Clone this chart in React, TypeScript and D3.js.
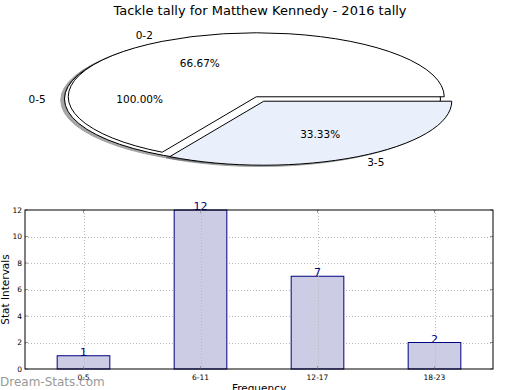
import React from 'react';
import * as d3 from 'd3';

const title = 'Tackle tally for Matthew Kennedy - 2016 tally';

// pie: full tally behind, split tally on top
const outerLabels = ['0-5'];
const outerValues = [3];
const innerLabels = ['0-2', '3-5'];
const innerValues = [2, 1];
const innerColors = ['#ffffff', '#e9effb'];

// bar chart
const barCategories = ['0-5', '6-11', '12-17', '18-23'];
const barValues = [1, 12, 7, 2];
const yTicks = [0, 2, 4, 6, 8, 10, 12];

const W = 520;
const H = 390;

// pie geometry (ellipse, because the axes are not square)
const cx = 260;
const cy = 99;
const rx = 188;
const ry = 64;
const explode = 0.04;

type Slice = { label: string; value: number; color: string; start: number; end: number; total: number };

function makeSlices(labels: string[], values: number[], colors: string[]): Slice[] {
  const total = d3.sum(values);
  const pie = d3
    .pie<number>()
    .sort(null)
    .startAngle(Math.PI / 2)
    .endAngle(Math.PI / 2 - 2 * Math.PI);
  return pie(values).map((p, i) => ({
    label: labels[i],
    value: values[i],
    color: colors[i],
    start: p.startAngle,
    end: p.endAngle,
    total
  }));
}

const arc = d3.arc<any>().innerRadius(0).outerRadius(1);

function PieSlices({ slices, layer }: { slices: Slice[]; layer: 'shadow' | 'wedge' | 'text' }) {
  return (
    <g>
      {slices.map(s => {
        const mid = (s.start + s.end) / 2;
        const ox = cx + explode * rx * Math.sin(mid);
        const oy = cy - explode * ry * Math.cos(mid);
        const d = arc({ startAngle: s.start, endAngle: s.end }) as string;
        if (layer === 'shadow') {
          const c = d3.rgb(s.color);
          const sc = d3.rgb(c.r * 0.3, c.g * 0.3, c.b * 0.3).toString();
          return (
            <path
              key={s.label}
              d={d}
              transform={`translate(${ox - 0.02 * rx},${oy + 0.02 * ry}) scale(${rx},${ry})`}
              fill={sc}
              stroke={sc}
              strokeWidth={1}
              vectorEffect="non-scaling-stroke"
              opacity={0.5}
            />
          );
        }
        if (layer === 'wedge') {
          return (
            <path
              key={s.label}
              d={d}
              transform={`translate(${ox},${oy}) scale(${rx},${ry})`}
              fill={s.color}
              stroke="#000"
              strokeWidth={1}
              vectorEffect="non-scaling-stroke"
              strokeLinejoin="miter"
            />
          );
        }
        const lx = ox + 1.1 * rx * Math.sin(mid);
        const ly = oy - 1.1 * ry * Math.cos(mid);
        const px = ox + 0.6 * rx * Math.sin(mid);
        const py = oy - 0.6 * ry * Math.cos(mid);
        const pct = ((100 * s.value) / s.total).toFixed(2) + '%';
        return (
          <g key={s.label}>
            <text x={lx} y={ly} dy="0.35em" textAnchor={Math.sin(mid) > 0 ? 'start' : 'end'}>
              {s.label}
            </text>
            <text x={px} y={py} dy="0.35em" textAnchor="middle">
              {pct}
            </text>
          </g>
        );
      })}
    </g>
  );
}

export default function App() {
  const outer = makeSlices(outerLabels, outerValues, ['#ffffff']);
  const inner = makeSlices(innerLabels, innerValues, innerColors);

  const left = 25;
  const right = 493;
  const top = 210;
  const bottom = 369;

  const x = d3
    .scaleLinear()
    .domain([-0.5, barCategories.length - 0.5])
    .range([left, right]);
  const y = d3.scaleLinear().domain([0, 12]).range([bottom, top]);
  const barW = x(0.45) - x(0);

  return (
    <svg
      width={W}
      height={H}
      style={{ position: 'absolute', left: 0, top: 0, background: '#fff' }}
      fontFamily="'DejaVu Sans', sans-serif"
    >
      <text x={260} y={15} textAnchor="middle" fontSize={13}>
        {title}
      </text>

      <g fontSize={10.5}>
        <PieSlices slices={outer} layer="shadow" />
        <PieSlices slices={inner} layer="shadow" />
        <PieSlices slices={outer} layer="wedge" />
        <PieSlices slices={inner} layer="wedge" />
        <PieSlices slices={outer} layer="text" />
        <PieSlices slices={inner} layer="text" />
      </g>

      {/* grid */}
      <g stroke="#b8b8b8" strokeDasharray="1,2" strokeWidth={1}>
        {yTicks.slice(1, -1).map(t => (
          <line key={'gy' + t} x1={left} x2={right} y1={Math.round(y(t)) + 0.5} y2={Math.round(y(t)) + 0.5} />
        ))}
        {barCategories.map((c, i) => (
          <line key={'gx' + c} x1={Math.round(x(i)) + 0.5} x2={Math.round(x(i)) + 0.5} y1={top} y2={bottom} />
        ))}
      </g>

      {/* bars */}
      {barValues.map((v, i) => (
        <rect
          key={barCategories[i]}
          x={x(i) - barW / 2}
          y={y(v)}
          width={barW}
          height={y(0) - y(v)}
          fill="#ccccE5"
          stroke="#000080"
          strokeWidth={1}
        />
      ))}

      {/* grid over bars */}
      <g stroke="#b8b8b8" strokeDasharray="1,2" strokeWidth={1}>
        {barCategories.map((c, i) => (
          <line key={'gx2' + c} x1={Math.round(x(i)) + 0.5} x2={Math.round(x(i)) + 0.5} y1={y(barValues[i])} y2={bottom} />
        ))}
      </g>

      {barValues.map((v, i) => (
        <text key={'v' + i} x={x(i)} y={y(v)} textAnchor="middle" fontSize={11} fill="#000080">
          {v}
        </text>
      ))}

      {/* ticks */}
      <g stroke="#999" strokeWidth={1}>
        {yTicks.map(t => (
          <g key={'ty' + t}>
            <line x1={left} x2={left + 3} y1={y(t)} y2={y(t)} />
            <line x1={right - 3} x2={right} y1={y(t)} y2={y(t)} />
          </g>
        ))}
        {barCategories.map((c, i) => (
          <g key={'tx' + c}>
            <line x1={x(i)} x2={x(i)} y1={bottom} y2={bottom - 3} />
            <line x1={x(i)} x2={x(i)} y1={top} y2={top + 3} />
          </g>
        ))}
      </g>

      <rect x={left} y={top} width={right - left} height={bottom - top} fill="none" stroke="#000" strokeWidth={1} />

      <g fontSize={7.5}>
        {yTicks.map(t => (
          <text key={'ly' + t} x={left - 3} y={y(t)} dy="0.35em" textAnchor="end">
            {t}
          </text>
        ))}
        {barCategories.map((c, i) => (
          <text key={'lx' + c} x={x(i)} y={bottom + 11} textAnchor="middle">
            {c}
          </text>
        ))}
      </g>

      <text transform={`translate(9,${(top + bottom) / 2}) rotate(-90)`} textAnchor="middle" fontSize={10.5}>
        Stat Intervals
      </text>
      <text x={(left + right) / 2} y={392} textAnchor="middle" fontSize={10.5}>
        Frequency
      </text>

      <text x={0} y={386} fontSize={12} fill="#999">
        Dream-Stats.com
      </text>
    </svg>
  );
}
